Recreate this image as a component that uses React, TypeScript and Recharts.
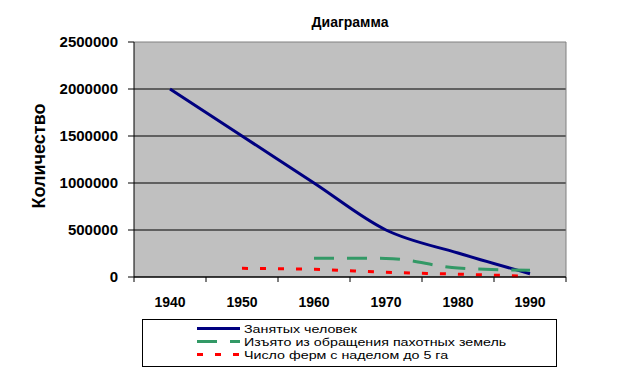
import React from 'react';
import { LineChart, Line, XAxis, YAxis, CartesianGrid, ReferenceLine, Legend } from 'recharts';

const years = [1940, 1950, 1960, 1970, 1980, 1990];
const employed = [2000000, 1500000, 1000000, 500000, 255000, 35000];
const withdrawn = [null, null, 200000, 198000, 95000, 72000];
const farms = [null, 92000, 82000, 50000, 30000, 8000];
const yTicks = [0, 500000, 1000000, 1500000, 2000000, 2500000];
const gridValues = [0, 500000, 1000000, 1500000, 2000000];
const xBoundaries = [1935, 1945, 1955, 1965, 1975, 1985, 1995];
const seriesNames = ['Занятых человек', 'Изъято из обращения пахотных земель', 'Число ферм с наделом до 5 га'];
const seriesKeys = ['employed', 'withdrawn', 'farms'];
const seriesColors = ['#000080', '#339966', '#FF0000'];
const seriesDash = ['', '20 13', '6 12'];

const data = years.map((year, i) => ({
  year,
  employed: employed[i],
  withdrawn: withdrawn[i],
  farms: farms[i],
}));

const FONT = 'Arial, "Liberation Sans", sans-serif';

const XTick = (props: any) => {
  const { x, y, index } = props;
  if (index >= years.length) return <g />;
  return (
    <text x={x + 36} y={y + 22.5} textAnchor="middle" fontFamily={FONT} fontWeight="bold" fontSize={14} fill="#000">
      {years[index]}
    </text>
  );
};

const LegendBox = () => (
  <svg width={416} height={49} style={{ display: 'block' }}>
    <rect x={0.5} y={0.5} width={414} height={47} fill="#fff" stroke="#000" strokeWidth={1} />
    {seriesNames.map((name, i) => {
      const cy = 9.5 + i * 13;
      return (
        <g key={name}>
          <line x1={55} x2={98} y1={cy} y2={cy} stroke={seriesColors[i]} strokeWidth={3} strokeDasharray={seriesDash[i] || undefined} />
          <text transform={`translate(102 ${cy + 4.2}) scale(1.23 1)`} x={0} y={0} fontFamily={FONT} fontSize={11.6} fill="#000">{name}</text>
        </g>
      );
    })}
  </svg>
);

export default function App() {
  return (
    <div style={{ position: 'absolute', left: 0, top: 0, width: 636, height: 378, background: '#fff' }}>
      <div style={{ position: 'absolute', left: 270, top: 14, width: 160, textAlign: 'center', fontFamily: FONT, fontWeight: 'bold', fontSize: 14, lineHeight: '16px', color: '#000' }}>
        Диаграмма
      </div>
      <LineChart width={636} height={378} data={data} margin={{ top: 42, right: 70, bottom: 0, left: 0 }}>
        <CartesianGrid vertical={false} fill="#C0C0C0" fillOpacity={1} stroke="#000" horizontalValues={gridValues} />
        <ReferenceLine y={2500000} stroke="#808080" strokeWidth={1} />
        <ReferenceLine x={1995} stroke="#808080" strokeWidth={1} />
        <XAxis
          dataKey="year"
          type="number"
          domain={[1935, 1995]}
          ticks={xBoundaries}
          interval={0}
          height={101}
          tickSize={5}
          stroke="#000"
          axisLine={{ stroke: '#000' }}
          tickLine={{ stroke: '#000' }}
          tick={<XTick />}
        />
        <YAxis
          type="number"
          domain={[0, 2500000]}
          ticks={yTicks}
          interval={0}
          width={134}
          tickSize={6}
          tickMargin={10}
          axisLine={{ stroke: '#000' }}
          tickLine={{ stroke: '#000' }}
          tick={{ fill: '#000', fontFamily: FONT, fontWeight: 'bold', fontSize: 15 }}
          label={{
            content: () => (
              <text x={38.5} y={156} transform="rotate(-90 38.5 156)" textAnchor="middle" dominantBaseline="central" fontFamily={FONT} fontWeight="bold" fontSize={18} fill="#000">
                Количество
              </text>
            ),
          }}
        />
        {seriesKeys.map((k, i) => (
          <Line
            key={k}
            dataKey={k}
            name={seriesNames[i]}
            type="monotone"
            stroke={seriesColors[i]}
            strokeWidth={3}
            strokeDasharray={seriesDash[i] || undefined}
            dot={false}
            activeDot={false}
            isAnimationActive={false}
          />
        ))}
        <Legend
          layout="horizontal"
          verticalAlign="middle"
          align="center"
          content={<LegendBox />}
          wrapperStyle={{ left: 142, top: 319, width: 416, height: 49 }}
        />
      </LineChart>
    </div>
  );
}
